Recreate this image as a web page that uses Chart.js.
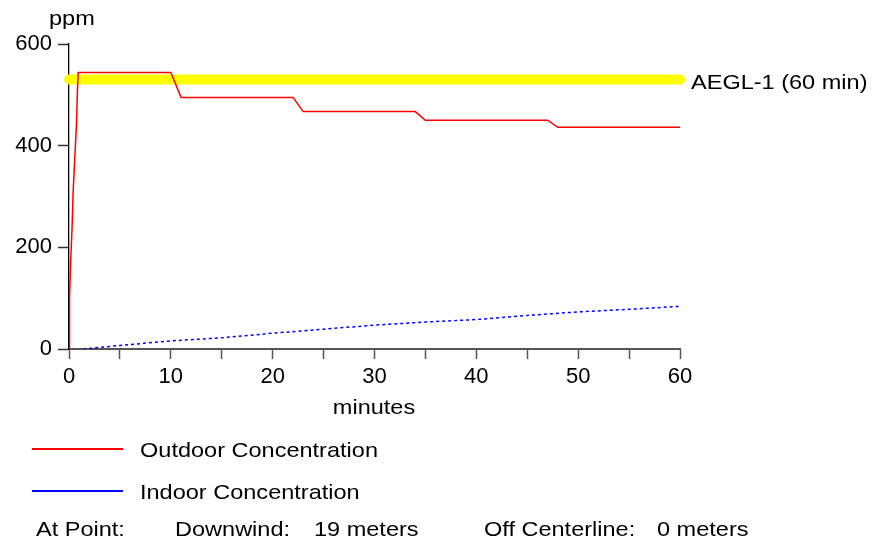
<!DOCTYPE html>
<html>
<head>
<meta charset="utf-8">
<script src="https://cdn.jsdelivr.net/npm/chart.js@4.4.1/dist/chart.umd.min.js"></script>
<style>
  html, body { margin: 0; padding: 0; background: #fff; }
  #wrap { position: relative; width: 872px; height: 539px; overflow: hidden; font-family: "Liberation Sans", Arial, sans-serif; color: #000; }
  #chart { position: absolute; left: 0; top: 0; }
  .t { position: absolute; font-size: 21px; line-height: 21px; white-space: nowrap; transform: scaleX(1.12); transform-origin: left top; }
  .c { transform: translateX(-50%) scaleX(1.12); transform-origin: center top; }
  .ln { position: absolute; height: 2px; }
</style>
</head>
<body>
<div id="wrap">
  <canvas id="chart" width="872" height="539"></canvas>
  <div class="t" style="left:49px; top:7px;">ppm</div>
  <div class="t" style="left:691px; top:71px;">AEGL-1 (60 min)</div>
  <div class="t c" style="left:374px; top:396px;">minutes</div>
  <div class="ln" style="left:32px; top:448px; width:91px; background:#ff0000;"></div>
  <div class="t" style="left:140px; top:439px;">Outdoor Concentration</div>
  <div class="ln" style="left:32px; top:490px; width:91px; background:#0000ff;"></div>
  <div class="t" style="left:140px; top:481px;">Indoor Concentration</div>
  <div class="t" style="left:36px; top:518px;">At Point:</div>
  <div class="t" style="left:175px; top:518px;">Downwind:</div>
  <div class="t" style="left:314px; top:518px;">19 meters</div>
  <div class="t" style="left:484px; top:518px;">Off Centerline:</div>
  <div class="t" style="left:657px; top:518px;">0 meters</div>
</div>
<script>
// ---- data ----
const outdoorTimes = [0, 0.05, 0.17, 0.3, 0.4, 0.56, 0.73, 0.83, 0.9, 10, 11, 22, 23, 34, 35, 47, 48, 60];
const outdoorPpm   = [0, 100, 175, 238, 307, 372, 441, 510, 544, 544, 495, 495, 467, 467, 450, 450, 436, 436];

const indoorTimes = [1.4, 5, 10, 15, 20, 25, 30, 35, 40, 45, 50, 55, 60];
const indoorPpm   = [0, 7, 16, 22, 31, 39, 47, 53, 58, 66, 73, 78, 84];

const aeglTimes = [0, 60];
const aeglPpm   = [530, 530];

const xTickValues = [0, 10, 20, 30, 40, 50, 60];
const yTickValues = [0, 200, 400, 600];

function pts(xs, ys) { return xs.map((x, i) => ({ x: x, y: ys[i] })); }

const tickFont = { family: "'Liberation Sans', Arial, sans-serif", size: 22 };

new Chart(document.getElementById('chart'), {
  type: 'line',
  data: {
    datasets: [
      {
        label: 'Outdoor Concentration',
        data: pts(outdoorTimes, outdoorPpm),
        borderColor: '#ff0000',
        borderWidth: 1.5,
        pointRadius: 0,
        tension: 0,
        fill: false,
        order: 1
      },
      {
        label: 'Indoor Concentration',
        data: pts(indoorTimes, indoorPpm),
        borderColor: '#0000ff',
        borderWidth: 1.5,
        borderDash: [3, 3],
        pointRadius: 0,
        tension: 0,
        fill: false,
        order: 2
      },
      {
        label: 'AEGL-1 (60 min)',
        data: pts(aeglTimes, aeglPpm),
        borderColor: '#ffff00',
        borderWidth: 10,
        borderCapStyle: 'round',
        pointRadius: 0,
        tension: 0,
        fill: false,
        clip: false,
        order: 3
      }
    ]
  },
  options: {
    responsive: false,
    animation: false,
    events: [],
    layout: { padding: { left: 0, right: 192, top: 44, bottom: 150 } },
    plugins: { legend: { display: false }, tooltip: { enabled: false }, title: { display: false } },
    scales: {
      x: {
        type: 'linear',
        min: 0, max: 60,
        afterFit: s => { s.height = 40; },
        border: { display: true, color: '#555', width: 2 },
        grid: { drawOnChartArea: false, drawTicks: true, tickLength: 10, tickColor: '#555', tickWidth: 1.5 },
        ticks: {
          stepSize: 5, autoSkip: false, maxRotation: 0, padding: 5,
          color: '#000', font: tickFont,
          callback: v => xTickValues.includes(v) ? String(v) : ''
        }
      },
      y: {
        type: 'linear',
        min: 0, max: 600,
        afterFit: s => { s.width = 69; },
        border: { display: true, color: '#000', width: 1.3 },
        grid: { drawOnChartArea: false, drawTicks: true, tickLength: 11, tickColor: '#333', tickWidth: 1.5 },
        ticks: {
          stepSize: 200, autoSkip: false, padding: 6,
          color: '#000', font: tickFont,
          callback: v => yTickValues.includes(v) ? String(v) : ''
        }
      }
    }
  }
});
</script>
</body>
</html>
